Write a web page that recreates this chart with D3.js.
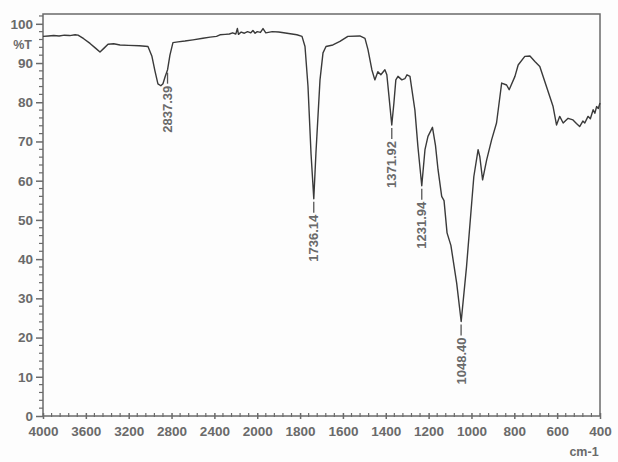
<!DOCTYPE html>
<html>
<head>
<meta charset="utf-8">
<script src="https://cdn.jsdelivr.net/npm/d3@7"></script>
<style>
  html, body { margin: 0; padding: 0; background: #fdfdfd; }
  svg { display: block; }
  text { font-family: "Liberation Sans", Arial, sans-serif; }
</style>
</head>
<body>
<svg id="chart" width="618" height="462"></svg>
<script>
// ---- data ----
const wavenumber = [4000,3950,3900,3850,3800,3750,3700,3673,3620,3561,3510,3468,3430,3393,3340,3281,3200,3100,3020,2983,2955,2927,2900,2880,2860,2837,2815,2787,2740,2675,2600,2507,2440,2380,2348,2300,2260,2230,2200,2185,2175,2150,2120,2090,2060,2040,2020,2000,1985,1973,1960,1930,1900,1861,1815,1791,1777,1763,1749,1736,1726,1707,1693,1679,1647,1614,1577,1521,1497,1483,1465,1451,1437,1423,1404,1395,1385,1372,1362,1353,1343,1325,1311,1301,1287,1278,1264,1250,1232,1217,1203,1182,1168,1156,1139,1128,1114,1096,1069,1048,1023,999,989,969,961,948,929,906,883,859,836,824,797,782,751,727,704,681,650,619,603,588,572,549,526,510,495,480,471,456,445,432,424,416,408,400];
const transmittance = [96.8,96.9,97.0,96.9,97.1,97.0,97.2,97.1,96.2,95.0,93.8,92.8,93.8,94.8,94.9,94.6,94.5,94.4,94.2,91.7,88.0,84.7,84.2,84.7,86.5,88.3,92.0,95.2,95.4,95.6,95.9,96.3,96.6,96.8,97.2,97.3,97.4,97.7,97.4,98.8,97.3,97.9,97.6,98.0,97.7,98.3,97.6,98.0,97.8,98.8,97.7,98.0,97.9,97.6,97.2,96.8,94.2,84.0,67.0,55.4,67.0,85.7,92.6,94.2,94.6,95.5,96.8,96.9,96.3,93.4,88.3,85.7,87.8,87.0,88.3,87.0,81.5,74.2,79.8,85.7,86.6,85.7,86.0,87.0,86.6,83.2,78.0,68.7,58.7,67.9,71.3,73.6,69.0,62.8,56.0,54.9,46.7,43.5,33.9,24.1,38.1,54.3,61.0,67.9,66.1,60.2,65.3,70.4,74.7,84.9,84.4,83.2,86.6,89.5,91.7,91.8,90.4,89.1,84.0,78.9,74.2,76.4,74.7,75.9,75.5,74.6,73.8,75.2,74.7,76.4,75.8,78.1,77.2,78.9,78.4,79.8];

const peakWavenumber = [2837.39, 1736.14, 1371.92, 1231.94, 1048.40];
const peakT = [88.3, 55.4, 74.2, 58.7, 24.1];
const peakLabels = ["2837.39", "1736.14", "1371.92", "1231.94", "1048.40"];

const xTickValues = [4000,3600,3200,2800,2400,2000,1800,1600,1400,1200,1000,800,600,400];
const yTickValues = [0,10,20,30,40,50,60,70,80,90,100];
const yLabel = "%T";
const xLabel = "cm-1";

// ---- layout ----
const svg = d3.select("#chart");
const plotL = 43, plotR = 600, plotT = 14, plotB = 416;
const step = (plotR - plotL) / 13;

const x = d3.scaleLinear()
  .domain([4000, 2000, 400])
  .range([plotL, plotL + 5 * step, plotR]);
const y = d3.scaleLinear().domain([0, 102.5]).range([plotB, plotT]);

const axisColor = "#6a6a6a";
const textColor = "#6a6a6a";

// frame
svg.append("rect")
  .attr("x", plotL).attr("y", plotT)
  .attr("width", plotR - plotL).attr("height", plotB - plotT)
  .attr("fill", "none").attr("stroke", axisColor).attr("stroke-width", 1.5);

// minor ticks
const xMinor = d3.range(4000, 2000, -80).concat(d3.range(2000, 399, -40))
  .filter(v => !xTickValues.includes(v));
const yMinor = d3.range(0, 103, 2).filter(v => v % 10 !== 0);

// X axis
const xAxis = d3.axisBottom(x).tickValues(xTickValues).tickSize(6).tickFormat(d3.format("d"));
const gx = svg.append("g").attr("transform", `translate(0,${plotB})`).call(xAxis);
gx.select(".domain").remove();
gx.selectAll(".tick line").attr("stroke", axisColor).attr("stroke-width", 1.5).attr("y1", -3).attr("y2", 3);
gx.selectAll(".tick text")
  .attr("fill", textColor).attr("font-size", 13.5).attr("font-weight", "bold")
  .attr("y", 10).attr("dy", "0.71em")
  .style("font-family", "'Liberation Sans', Arial, sans-serif");
svg.append("g").selectAll("line").data(xMinor).join("line")
  .attr("x1", d => x(d)).attr("x2", d => x(d))
  .attr("y1", plotB - 3).attr("y2", plotB + 1)
  .attr("stroke", axisColor).attr("stroke-width", 1.2);

// Y axis
const yAxis = d3.axisLeft(y).tickValues(yTickValues).tickSize(7).tickFormat(d3.format("d"));
const gy = svg.append("g").attr("transform", `translate(${plotL},0)`).call(yAxis);
gy.select(".domain").remove();
gy.selectAll(".tick line").attr("stroke", axisColor).attr("stroke-width", 1.5);
gy.selectAll(".tick text")
  .attr("fill", textColor).attr("font-size", 13.5).attr("font-weight", "bold")
  .attr("x", -10)
  .style("font-family", "'Liberation Sans', Arial, sans-serif");
svg.append("g").selectAll("line").data(yMinor).join("line")
  .attr("x1", plotL - 4).attr("x2", plotL)
  .attr("y1", d => y(d)).attr("y2", d => y(d))
  .attr("stroke", axisColor).attr("stroke-width", 1.2);

// axis titles
svg.append("text")
  .attr("x", plotL - 11).attr("y", 45).attr("dy", "0.35em")
  .attr("text-anchor", "end")
  .attr("fill", textColor).attr("font-size", 12.5).attr("font-weight", "bold")
  .text(yLabel);
svg.append("text")
  .attr("x", 584).attr("y", 452).attr("dy", "0.35em")
  .attr("text-anchor", "middle")
  .attr("fill", textColor).attr("font-size", 12.5).attr("font-weight", "bold")
  .text(xLabel);

// spectrum
const pts = wavenumber.map((w, i) => [w, transmittance[i]]);
const line = d3.line().x(d => x(d[0])).y(d => y(d[1]));
svg.append("path")
  .datum(pts)
  .attr("d", line)
  .attr("fill", "none")
  .attr("stroke", "#3a3a3a")
  .attr("stroke-width", 1.4)
  .attr("stroke-linejoin", "round");

// peak labels
const gap = 16;
const peaks = peakWavenumber.map((w, i) => ({ w, t: peakT[i], label: peakLabels[i] }));
const gp = svg.append("g");
gp.selectAll("line").data(peaks).join("line")
  .attr("x1", d => x(d.w)).attr("x2", d => x(d.w))
  .attr("y1", d => y(d.t) + 3).attr("y2", d => y(d.t) + gap - 2)
  .attr("stroke", "#555").attr("stroke-width", 1.3);
gp.selectAll("text").data(peaks).join("text")
  .attr("transform", d => `translate(${x(d.w)},${y(d.t) + gap}) rotate(-90)`)
  .attr("text-anchor", "end")
  .attr("dy", "0.35em")
  .attr("fill", textColor).attr("font-size", 13).attr("font-weight", "bold")
  .text(d => d.label);
</script>
</body>
</html>
